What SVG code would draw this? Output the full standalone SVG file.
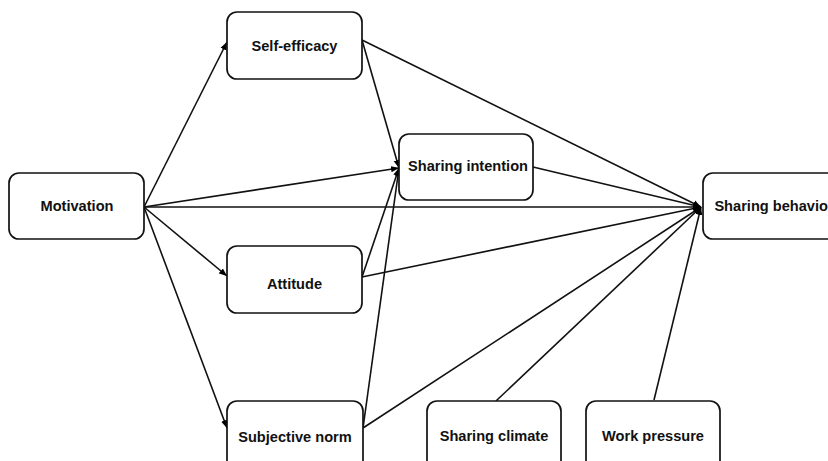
<svg xmlns="http://www.w3.org/2000/svg" width="828" height="461" viewBox="0 0 828 461">
<defs>
<marker id="ah" viewBox="0 0 10 10" refX="10" refY="5" markerWidth="8" markerHeight="8" orient="auto" markerUnits="userSpaceOnUse">
<path d="M0,1 L10,5 L0,9 z" fill="#000"/>
</marker>
<style>
.box{fill:#fff;stroke:#111;stroke-width:1.7}
.lbl{font-family:"Liberation Sans",Arial,sans-serif;font-weight:bold;font-size:14.6px;fill:#111;text-anchor:middle;dominant-baseline:central}
.c{stroke:#111;stroke-width:1.6;fill:none}
.a{marker-end:url(#ah)}
</style>
</defs>
<rect width="828" height="461" fill="#fff"/>
<g id="connectors">
<line class="c a" x1="144" y1="207" x2="227" y2="42"/>
<line class="c a" x1="144" y1="207" x2="399" y2="168"/>
<line class="c a" x1="144" y1="207" x2="701" y2="207"/>
<line class="c a" x1="144" y1="207" x2="227" y2="276"/>
<line class="c a" x1="144" y1="207" x2="227" y2="428"/>
<line class="c a" x1="362" y1="40" x2="701" y2="207"/>
<line class="c a" x1="362" y1="40" x2="399" y2="168"/>
<line class="c a" x1="362" y1="277" x2="399" y2="168"/>
<line class="c a" x1="362" y1="277" x2="701" y2="207"/>
<line class="c a" x1="363" y1="428" x2="399" y2="168"/>
<line class="c a" x1="363" y1="428" x2="701" y2="207"/>
<line class="c a" x1="533" y1="167" x2="701" y2="207"/>
<line class="c a" x1="496" y1="401" x2="701" y2="207"/>
<line class="c a" x1="654" y1="400" x2="701" y2="207"/>
</g>
<g id="motivation"><rect class="box" x="9" y="173" width="135" height="66" rx="10"/><text class="lbl" x="77" y="206">Motivation</text></g>
<g id="self-efficacy"><rect class="box" x="227" y="12" width="135" height="67" rx="10"/><text class="lbl" x="294.5" y="46">Self-efficacy</text></g>
<g id="sharing-intention"><rect class="box" x="399" y="134" width="134" height="66" rx="10"/><text class="lbl" x="468" y="166">Sharing intention</text></g>
<g id="sharing-behavior"><rect class="box" x="703" y="173" width="140" height="66" rx="10"/><text class="lbl" x="774" y="206">Sharing behavior</text></g>
<g id="attitude"><rect class="box" x="227" y="246" width="135" height="67" rx="10"/><text class="lbl" x="294.5" y="284">Attitude</text></g>
<g id="subjective-norm"><rect class="box" x="227" y="401" width="136" height="70" rx="10"/><text class="lbl" x="295" y="437">Subjective norm</text></g>
<g id="sharing-climate"><rect class="box" x="427" y="401" width="134" height="70" rx="10"/><text class="lbl" x="494" y="436">Sharing climate</text></g>
<g id="work-pressure"><rect class="box" x="586" y="401" width="134" height="70" rx="10"/><text class="lbl" x="653" y="436">Work pressure</text></g>
</svg>
